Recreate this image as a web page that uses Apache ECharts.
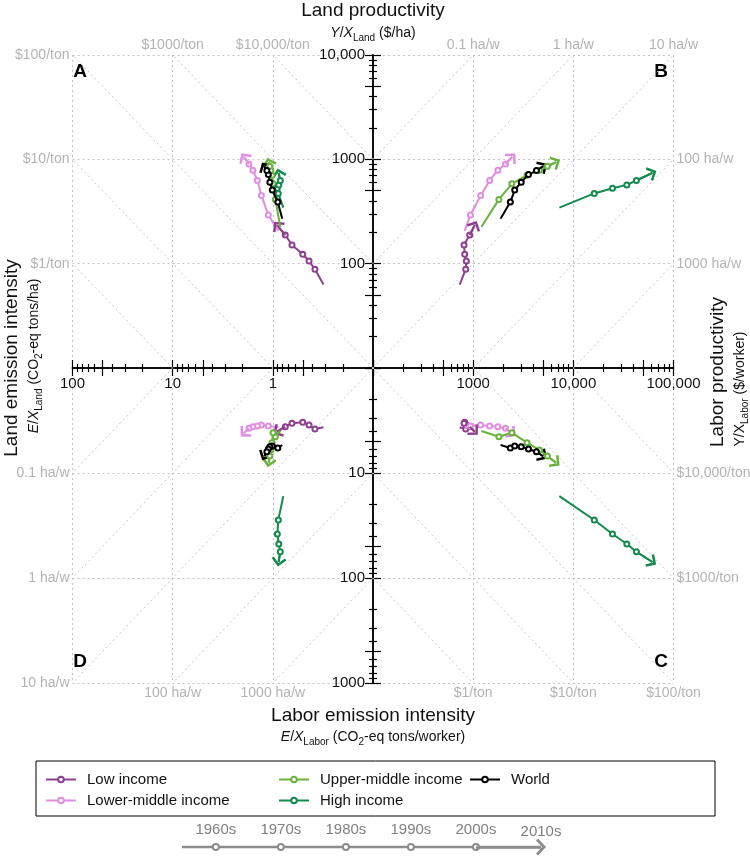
<!DOCTYPE html>
<html>
<head>
<meta charset="utf-8">
<script src="https://cdn.jsdelivr.net/npm/echarts@6.0.0/dist/echarts.min.js"></script>
<style>
  html, body { margin: 0; padding: 0; background: #fff; }
  #chart { width: 750px; height: 856px; }
</style>
</head>
<body>
<div id="chart"></div>
<script>
// --- Data: decade paths (start, decade markers, 2010s) per income group ---
const groups = ['Low income', 'Lower-middle income', 'Upper-middle income', 'High income', 'World'];
const groupColors = ['#8e3f8f', '#e08fe0', '#6ab23e', '#138a4e', '#000000'];

// Land productivity Y/X_Land ($/ha)
const landProd = [
  [63.1, 88.3, 106, 123, 151, 188, 234],
  [206, 293, 451, 627, 786, 902, 1056],
  [225, 413, 582, 704, 786, 858, 942],
  [344, 471, 529, 569, 627, 741],
  [270, 389, 507, 604, 715, 781, 858]
];
// Labor productivity Y/X_Labor ($/worker)
const laborProd = [
  [734, 842, 855, 823, 810, 923, 1035],
  [823, 938, 1188, 1460, 1765, 2106, 2455],
  [1207, 1806, 2432, 3446, 4588, 5510, 6725],
  [7256, 16180, 24600, 34200, 42650, 61520],
  [1877, 2350, 2600, 3018, 3566, 4285, 4995]
];
// Land emission intensity E/X_Land (CO2-eq tons/ha)
const emLand = [
  [0.312, 0.380, 0.435, 0.503, 0.644, 0.751, 0.908],
  [0.882, 1.109, 1.301, 1.426, 1.581, 1.733, 1.944],
  [0.842, 0.944, 0.995, 1.019, 1.047, 1.071, 1.101],
  [0.786, 0.882, 0.902, 0.872, 0.842, 0.876],
  [0.805, 0.892, 1.012, 1.071, 1.109, 1.147, 1.215]
];
// Labor emission intensity E/X_Labor (CO2-eq tons/worker)
const emLabor = [
  [3.67, 3.81, 3.49, 3.29, 3.36, 3.62, 4.04],
  [3.67, 3.57, 3.49, 3.57, 3.62, 3.75, 4.19],
  [3.98, 4.51, 4.13, 5.14, 6.04, 6.89, 7.98],
  [16.6, 28.0, 38.1, 47.5, 56.2, 70.4],
  [5.41, 5.78, 5.53, 5.62, 5.91, 6.27, 6.93]
];

const decades = ['1960s', '1970s', '1980s', '1990s', '2000s', '2010s'];

// iso-ratio guide lines ($/ton or ha/w) and their edge labels
const dollarRatios = [1, 10, 100, 1000, 10000];
const haRatios = [0.1, 1, 10, 100, 1000];
const guideLabels = {
  A: { x: [[1, '$10,000/ton'], [10, '$1000/ton']], y: [[100, '$1/ton'], [1000, '$10/ton'], [10000, '$100/ton']] },
  B: { x: [[1000, '0.1 ha/w'], [10000, '1 ha/w'], [100000, '10 ha/w']], y: [[100, '1000 ha/w'], [1000, '100 ha/w']] },
  C: { x: [[1000, '$1/ton'], [10000, '$10/ton'], [100000, '$100/ton']], y: [[10, '$10,000/ton'], [100, '$1000/ton']] },
  D: { x: [[1, '1000 ha/w'], [10, '100 ha/w']], y: [[10, '0.1 ha/w'], [100, '1 ha/w'], [1000, '10 ha/w']] }
};
const axisLabelValues = {
  xLeft: [1, 10, 100], xRight: [1000, 10000, 100000],
  yUp: [100, 1000, 10000], yDown: [10, 100, 1000]
};

// --- Layout ---
const X0 = 373, Y0 = 368;
const W = 300.5, HU = 313, HD = 315;
const FONT = '"Liberation Sans", Arial, Helvetica, sans-serif';
const GUIDE = '#c4c4c4';
const CHEVRON = 'path://M5,0L10,5L8.8,6.2L5,2.4L1.2,6.2L0,5Z';

const quads = [
  { key: 'A', box: [X0 - W, Y0 - HU, W, HU], x: emLand, y: landProd, xr: [0.1, 100], yr: [10, 10000],
    xInv: true, yInv: false, xIn: 'bottom', yIn: 'right', xLab: axisLabelValues.xLeft, yLab: null,
    ratios: dollarRatios, slope: r => r },
  { key: 'B', box: [X0, Y0 - HU, W, HU], x: laborProd, y: landProd, xr: [100, 100000], yr: [10, 10000],
    xInv: false, yInv: false, xIn: 'bottom', yIn: 'left', xLab: axisLabelValues.xRight, yLab: axisLabelValues.yUp,
    ratios: haRatios, slope: r => 1 / r },
  { key: 'C', box: [X0, Y0, W, HD], x: laborProd, y: emLabor, xr: [100, 100000], yr: [1, 1000],
    xInv: false, yInv: true, xIn: 'top', yIn: 'left', xLab: null, yLab: axisLabelValues.yDown,
    ratios: dollarRatios, slope: r => 1 / r },
  { key: 'D', box: [X0 - W, Y0, W, HD], x: emLand, y: emLabor, xr: [0.1, 100], yr: [1, 1000],
    xInv: true, yInv: true, xIn: 'top', yIn: 'right', xLab: null, yLab: null,
    ratios: haRatios, slope: r => r }
];

function fix(v) { return Number(Number(v).toPrecision(8)); }
function fmtNum(v) {
  v = fix(v);
  return v >= 10000 ? v.toLocaleString('en-US') : String(v);
}
function lookup(pairs, v) {
  const p = pairs.find(p => Math.abs(Math.log10(p[0]) - Math.log10(v)) < 1e-6);
  return p ? p[1] : '';
}
function logTicks(min, max) {
  const major = [], minor = [];
  for (let d = min; d < max * 0.999; d *= 10) {
    for (let k = 1; k <= 9; k++) {
      const v = fix(d * k);
      (k === 1 || k === 5 ? major : minor).push(v);
    }
  }
  major.push(max);
  return { major, minor };
}

const grid = [], xAxis = [], yAxis = [], series = [];

function addAxes(list, q, gi, dim) {
  const range = q[dim + 'r'];
  const inner = q[dim + 'In'];
  const outer = { top: 'bottom', bottom: 'top', left: 'right', right: 'left' }[inner];
  const t = logTicks(range[0], range[1]);
  const labels = q[dim + 'Lab'];
  const guide = guideLabels[q.key][dim];
  const base = {
    type: 'log', logBase: 10, gridIndex: gi, min: range[0], max: range[1], inverse: q[dim + 'Inv'],
    silent: true, axisLine: { show: false, onZero: false }, axisTick: { show: false },
    axisLabel: { show: false }, splitLine: { show: false }
  };
  const mainIdx = list.length;
  list.push(Object.assign({}, base, {
    position: inner,
    axisLine: { show: true, onZero: false, lineStyle: { color: '#000', width: 1.5 } },
    axisTick: { show: true, customValues: t.major, length: 8, lineStyle: { color: '#000', width: 1.2 } },
    axisLabel: labels ? {
      show: true, customValues: labels, formatter: fmtNum, fontSize: 15, color: '#111',
      fontFamily: FONT, margin: 8
    } : { show: false }
  }));
  list.push(Object.assign({}, base, {
    position: inner,
    axisTick: { show: true, customValues: t.minor, length: 4, lineStyle: { color: '#000', width: 1.2 } }
  }));
  list.push(Object.assign({}, base, {
    position: outer,
    axisLabel: {
      show: true, customValues: guide.map(g => g[0]), formatter: v => lookup(guide, v),
      color: '#b3b3b3', fontSize: 14, fontFamily: FONT, margin: 3
    },
    splitLine: { show: true, showMinLine: false, lineStyle: { color: GUIDE, type: [2, 3], width: 1 } }
  }));
  return mainIdx;
}

function arrowLine(color, p1, p2, size, width) {
  return {
    silent: true, animation: false, symbol: ['none', CHEVRON], symbolSize: size,
    lineStyle: { color: color, width: width || 2, type: 'solid' }, label: { show: false },
    emphasis: { disabled: true },
    data: [[{ coord: p1 }, { coord: p2 }]]
  };
}

quads.forEach((q, gi) => {
  grid.push({ left: q.box[0], top: q.box[1], width: q.box[2], height: q.box[3], outerBoundsMode: 'none', containLabel: false });
  const xi = addAxes(xAxis, q, gi, 'x');
  const yi = addAxes(yAxis, q, gi, 'y');

  // diagonal iso-ratio guides
  q.ratios.forEach(r => {
    const k = q.slope(r);
    const lo = fix(Math.max(q.xr[0], q.yr[0] / k));
    const hi = fix(Math.min(q.xr[1], q.yr[1] / k));
    if (hi <= lo) return;
    series.push({
      type: 'line', xAxisIndex: xi, yAxisIndex: yi, silent: true, animation: false, z: 1,
      symbol: 'none', lineStyle: { color: GUIDE, width: 1, type: [2, 3] },
      data: [[lo, fix(k * lo)], [hi, fix(k * hi)]]
    });
  });

  // income group paths
  groups.forEach((name, s) => {
    const pts = q.x[s].map((v, i) => [v, q.y[s][i]]);
    const n = pts.length;
    series.push({
      type: 'line', name: name, xAxisIndex: xi, yAxisIndex: yi, silent: true, animation: false, z: 3 + s,
      symbol: 'emptyCircle', symbolSize: 5, showAllSymbol: true,
      itemStyle: { color: groupColors[s], borderWidth: 1.2 },
      lineStyle: { color: groupColors[s], width: 2 },
      data: pts.map((p, i) => (i === 0 || i === n - 1) ? { value: p, symbol: 'none' } : p),
      markLine: arrowLine(groupColors[s], pts[n - 2], pts[n - 1], [15, 9])
    });
  });
});

// --- Timeline key ---
grid.push({ left: 182, top: 837, width: 359, height: 20, outerBoundsMode: 'none', containLabel: false });
xAxis.push({ type: 'value', gridIndex: 4, min: -0.52, max: decades.length - 1, show: false });
yAxis.push({ type: 'value', gridIndex: 4, min: -1, max: 1, show: false });
const tl = [{ value: [-0.52, 0], symbol: 'none' }].concat(decades.map((d, i) => {
  const last = i === decades.length - 1;
  return {
    value: [i, 0],
    symbol: last ? 'circle' : 'emptyCircle',
    symbolSize: last ? 0 : 6,
    label: { show: true, formatter: d, distance: last ? 8 : 6 }
  };
}));
series.push({
  type: 'line', xAxisIndex: xAxis.length - 1, yAxisIndex: yAxis.length - 1, silent: true, animation: false,
  showAllSymbol: true, itemStyle: { color: '#8c8c8c', borderWidth: 1.5 },
  lineStyle: { color: '#8c8c8c', width: 2.5 },
  label: { position: 'top', distance: 6, fontSize: 15, color: '#808080', fontFamily: FONT },
  data: tl,
  markLine: arrowLine('#8c8c8c', [decades.length - 2, 0], [decades.length - 1, 0], [17, 10], 2.5)
});

// --- Legend ---
const legendCommon = {
  orient: 'vertical', itemWidth: 30, itemHeight: 7, itemGap: 6, padding: 0, selectedMode: false,
  textStyle: { fontSize: 15, color: '#111', fontFamily: FONT, lineHeight: 13, padding: [0, 0, 0, 6] }
};
const legend = [
  Object.assign({ data: groups.slice(0, 2), left: 45, top: 772 }, legendCommon),
  Object.assign({ data: groups.slice(2, 4), left: 278, top: 772 }, legendCommon),
  Object.assign({ data: groups.slice(4), left: 469, top: 772 }, legendCommon)
];

// --- Titles and panel letters ---
const rich = {
  t: { fontSize: 14, fontFamily: FONT, color: '#111', lineHeight: 20 },
  i: { fontSize: 14, fontFamily: FONT, color: '#111', fontStyle: 'italic', lineHeight: 20 },
  s: { fontSize: 10, fontFamily: FONT, color: '#111', verticalAlign: 'bottom', lineHeight: 14 }
};
function title(text, x, y, rot) {
  return { type: 'text', x: x, y: y, rotation: rot || 0, silent: true,
    style: { text: text, font: '19px ' + FONT, fill: '#111', align: 'center', verticalAlign: 'middle' } };
}
function subtitle(text, x, y, rot) {
  return { type: 'text', x: x, y: y, rotation: rot || 0, silent: true,
    style: { text: text, rich: rich, fill: '#111', align: 'center', verticalAlign: 'middle' } };
}
function letter(t, x, y) {
  return { type: 'text', x: x, y: y, silent: true,
    style: { text: t, font: 'bold 19px ' + FONT, fill: '#000', align: 'center', verticalAlign: 'middle' } };
}
const graphic = [
  title('Land productivity', X0, 11),
  subtitle('{i|Y}{t|/}{i|X}{s|Land}{t| ($/ha)}', X0, 33),
  title('Land emission intensity', 12, 358, Math.PI / 2),
  subtitle('{i|E}{t|/}{i|X}{s|Land}{t| (CO}{s|2}{t|-eq tons/ha)}', 34, 356, Math.PI / 2),
  title('Labor productivity', 718, 372, Math.PI / 2),
  subtitle('{t|Y/X}{s|Labor}{t| ($/worker)}', 740, 389, Math.PI / 2),
  title('Labor emission intensity', X0, 716),
  subtitle('{i|E}{t|/}{i|X}{s|Labor}{t| (CO}{s|2}{t|-eq tons/worker)}', X0, 737),
  letter('A', 80, 72), letter('B', 661, 72), letter('C', 661, 662), letter('D', 80, 662),
  { type: 'rect', silent: true, shape: { x: 36, y: 761, width: 679, height: 55 },
    style: { fill: 'none', stroke: '#000', lineWidth: 1 } }
];

const chart = echarts.init(document.getElementById('chart'), null, { renderer: 'canvas' });
chart.setOption({
  animation: false,
  backgroundColor: '#fff',
  textStyle: { fontFamily: FONT },
  grid: grid, xAxis: xAxis, yAxis: yAxis,
  legend: legend,
  graphic: graphic,
  series: series
});
</script>
</body>
</html>
